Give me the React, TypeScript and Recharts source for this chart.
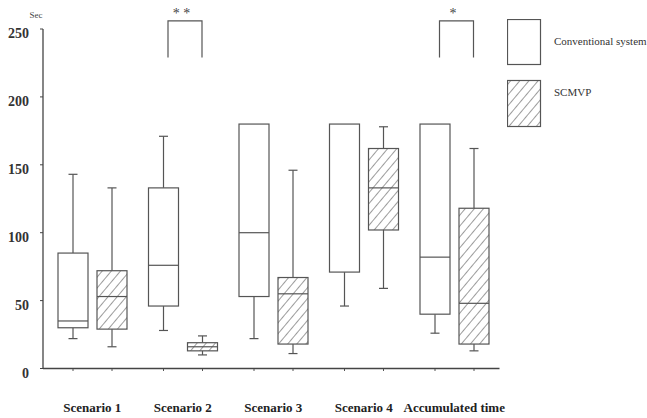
import React from "react";
import { BarChart, Bar, XAxis, YAxis, Legend } from "recharts";

// box statistics per group: [min, q1, median, q3, max]
const categories = ["Scenario 1", "Scenario 2", "Scenario 3", "Scenario 4", "Accumulated time"];
const conventional = [
  [22, 30, 35, 85, 143],
  [28, 46, 76, 133, 171],
  [22, 53, 100, 180, 180],
  [46, 71, 180, 180, 180],
  [26, 40, 82, 180, 180],
];
const scmvp = [
  [16, 29, 53, 72, 133],
  [10, 13, 16, 19, 24],
  [11, 18, 55, 67, 146],
  [59, 102, 133, 162, 178],
  [13, 18, 48, 118, 162],
];
const significance = ["", "**", "", "", "*"];
const yTicks = [0, 50, 100, 150, 200, 250];

const data = categories.map((name, i) => ({
  name,
  conv: conventional[i],
  scmvp: scmvp[i],
  sig: significance[i],
}));

const BAR = 30;
const GAP = 9;
const LINE = "#555";
const FONT = "'Liberation Serif', 'Times New Roman', serif";

const boxShape = (key: "conv" | "scmvp") => (props: any) => {
  const { x, y, width, height, payload } = props;
  const [min, q1, med, q3, max] = payload[key];
  // bar spans min..max, so interpolate the rest on the same linear scale
  const py = (v: number) => y + ((max - v) / (max - min)) * height;
  const cx = x + width / 2;
  const cap = 4.5;
  const groupCx = cx - (BAR + GAP) / 2;
  return (
    <g>
      {max > q3 && <line x1={cx} x2={cx} y1={py(max)} y2={py(q3)} stroke={LINE} strokeWidth={1.2} />}
      <line x1={cx} x2={cx} y1={py(q1)} y2={py(min)} stroke={LINE} strokeWidth={1.2} />
      {max > q3 && <line x1={cx - cap} x2={cx + cap} y1={py(max)} y2={py(max)} stroke={LINE} strokeWidth={1.2} />}
      <line x1={cx - cap} x2={cx + cap} y1={py(min)} y2={py(min)} stroke={LINE} strokeWidth={1.2} />
      <rect
        x={x}
        y={py(q3)}
        width={width}
        height={py(q1) - py(q3)}
        fill={key === "scmvp" ? "url(#hatch)" : "#fff"}
        stroke={LINE}
        strokeWidth={1.2}
      />
      {med < q3 && med > q1 && (
        <line x1={x} x2={x + width} y1={py(med)} y2={py(med)} stroke={LINE} strokeWidth={1.2} />
      )}
      {/* small tick under the axis at each box */}
      <line x1={cx} x2={cx} y1={py(0)} y2={py(0) + 2.5} stroke={LINE} strokeWidth={1} />
      {key === "scmvp" && payload.sig && (
        <g>
          <polyline
            points={`${groupCx - 15},${py(229)} ${groupCx - 15},${py(256)} ${groupCx + 19},${py(256)} ${groupCx + 19},${py(229)}`}
            fill="none"
            stroke={LINE}
            strokeWidth={1.2}
          />
          <text x={groupCx - 1.5} y={py(256) - 2.5} textAnchor="middle" fontFamily={FONT} fontSize={14} fill="#444">
            {payload.sig.split("").join(" ")}
          </text>
        </g>
      )}
    </g>
  );
};

const YTick = ({ x, y, payload }: any) => (
  <text x={x} y={y} dy={9} textAnchor="end" fontFamily={FONT} fontSize={14} fontWeight="bold" fill="#333">
    {payload.value}
  </text>
);

const XTick = ({ x, y, payload }: any) => (
  <text x={x} y={y} dy={43.5} textAnchor="middle" fontFamily={FONT} fontSize={13} fontWeight="bold" fill="#222">
    {payload.value}
  </text>
);

const SecLabel = ({ viewBox }: any) => (
  <text x={viewBox.x + viewBox.width - 7} y={viewBox.y - 11} textAnchor="middle" fontFamily={FONT} fontSize={9} fill="#444">
    Sec
  </text>
);

const LegendBoxes = ({ payload }: any) => {
  const items = payload || [];
  return (
    <svg width={140} height={110} style={{ display: "block" }}>
      <rect x={0.5} y={0.5} width={33} height={45} fill="#fff" stroke={LINE} strokeWidth={1.2} />
      <rect x={0.5} y={61.5} width={33} height={46} fill="url(#hatch)" stroke={LINE} strokeWidth={1.2} />
      <text x={47} y={26} fontFamily={FONT} fontSize={11} fill="#333">
        {items[0]?.value}
      </text>
      <text x={47} y={77} fontFamily={FONT} fontSize={11} fill="#333">
        {items[1]?.value}
      </text>
    </svg>
  );
};

export default function App() {
  return (
    <>
      <style>{`body{margin:0}`}</style>
      <BarChart
        width={647}
        height={418}
        data={data}
        barSize={BAR}
        barGap={GAP}
        margin={{ top: 29, right: 147.5, bottom: 0, left: 0 }}
        style={{ background: "#fff" }}
      >
        <defs>
          <pattern id="hatch" patternUnits="userSpaceOnUse" width={7} height={7} patternTransform="rotate(40)">
            <rect width={7} height={7} fill="#fff" />
            <line x1={0} y1={0} x2={0} y2={7} stroke="#666" strokeWidth={1.3} />
          </pattern>
        </defs>
        <XAxis
          dataKey="name"
          height={49.5}
          padding={{ left: 4, right: 0 }}
          tickLine={false}
          tickSize={0}
          tickMargin={0}
          axisLine={{ stroke: "#444", strokeWidth: 1.3 }}
          tick={<XTick />}
          interval={0}
        />
        <YAxis
          type="number"
          domain={[0, 250]}
          ticks={yTicks}
          width={43}
          tickSize={3}
          tickMargin={11}
          axisLine={{ stroke: "#444", strokeWidth: 1.3 }}
          tickLine={{ stroke: "#444" }}
          tick={<YTick />}
          label={<SecLabel />}
        />
        <Bar
          dataKey={(d: any) => [d.conv[0], d.conv[4]]}
          name="Conventional system"
          shape={boxShape("conv")}
          isAnimationActive={false}
        />
        <Bar
          dataKey={(d: any) => [d.scmvp[0], d.scmvp[4]]}
          name="SCMVP"
          shape={boxShape("scmvp")}
          isAnimationActive={false}
        />
        <Legend
          layout="horizontal"
          verticalAlign="middle"
          align="center"
          content={<LegendBoxes />}
          wrapperStyle={{ left: 507, top: 19, width: 140, height: 110 }}
        />
      </BarChart>
    </>
  );
}
